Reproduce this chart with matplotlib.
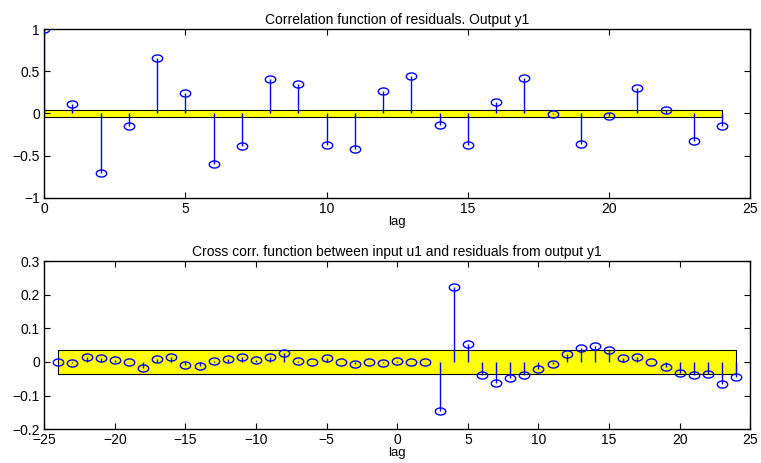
import numpy as np
import matplotlib
matplotlib.use('Agg')
import matplotlib.pyplot as plt
from matplotlib.path import Path
from matplotlib.ticker import FuncFormatter

plt.rcParams['font.family'] = ['Liberation Sans', 'DejaVu Sans']

# autocorrelation of residuals, lags 0..24
lags_e = list(range(0, 25))
r_e = [1.0, 0.113, -0.707, -0.149, 0.659, 0.244, -0.596, -0.386, 0.406, 0.354,
       -0.374, -0.426, 0.263, 0.449, -0.133, -0.370, 0.133, 0.426, -0.006, -0.362,
       -0.030, 0.307, 0.046, -0.331, -0.152]
conf_e = 0.038

# cross correlation u1 -> residuals, lags -24..24
lags_ue = list(range(-24, 25))
r_ue = [0.0, -0.003, 0.015, 0.012, 0.007, -0.001, -0.019, 0.009, 0.016, -0.010,
        -0.013, 0.004, 0.008, 0.015, 0.006, 0.015, 0.027, 0.004, -0.001, 0.011,
        0.001, -0.007, 0.001, -0.003, 0.004, 0.001, 0.0, -0.146, 0.222, 0.052,
        -0.040, -0.063, -0.049, -0.039, -0.022, -0.005, 0.024, 0.043, 0.049, 0.035,
        0.011, 0.016, -0.001, -0.014, -0.033, -0.040, -0.037, -0.065, -0.046]
conf_ue = 0.035

# slightly squashed circle like the original export
t = np.linspace(0, 2 * np.pi, 60)
ell = Path(np.column_stack([np.cos(t), 0.68 * np.sin(t)]), closed=True)

def minus(v, pos):
    return ('%g' % v).replace('-', '\u2212')

def panel(ax, lags, vals, conf, title):
    lo, hi = min(lags), max(lags)
    ax.fill_between([lo, hi], -conf, conf, facecolor='yellow',
                    edgecolor='black', linewidth=0.8, zorder=1)
    ax.vlines(lags, 0, vals, color='blue', linewidth=1.0, zorder=2)
    ax.plot(lags, vals, linestyle='none', marker=ell, markersize=7.5,
            markerfacecolor='none', markeredgecolor='blue',
            markeredgewidth=1.0, zorder=3)
    ax.set_title(title, fontsize=10, pad=4)
    ax.set_xlabel('lag', fontsize=9.5, labelpad=0)
    ax.tick_params(direction='in', top=True, right=True, labelsize=10,
                   length=4, width=0.8, pad=3)
    ax.yaxis.set_major_formatter(FuncFormatter(minus))
    ax.xaxis.set_major_formatter(FuncFormatter(minus))
    for s in ax.spines.values():
        s.set_linewidth(1.0)

fig = plt.figure(figsize=(7.61, 4.63), dpi=100)
ax1 = fig.add_axes([0.058, 0.573, 0.928, 0.364])
ax2 = fig.add_axes([0.058, 0.073, 0.928, 0.363])

panel(ax1, lags_e, r_e, conf_e, 'Correlation function of residuals. Output y1')
ax1.set_xlim(0, 25)
ax1.set_ylim(-1, 1)
ax1.set_xticks([0, 5, 10, 15, 20, 25])
ax1.set_yticks([-1, -0.5, 0, 0.5, 1])

panel(ax2, lags_ue, r_ue, conf_ue,
      'Cross corr. function between input u1 and residuals from output y1')
ax2.set_xlim(-25, 25)
ax2.set_ylim(-0.2, 0.3)
ax2.set_xticks(range(-25, 26, 5))
ax2.set_yticks([-0.2, -0.1, 0, 0.1, 0.2, 0.3])

fig.savefig('out.png', dpi=100)
